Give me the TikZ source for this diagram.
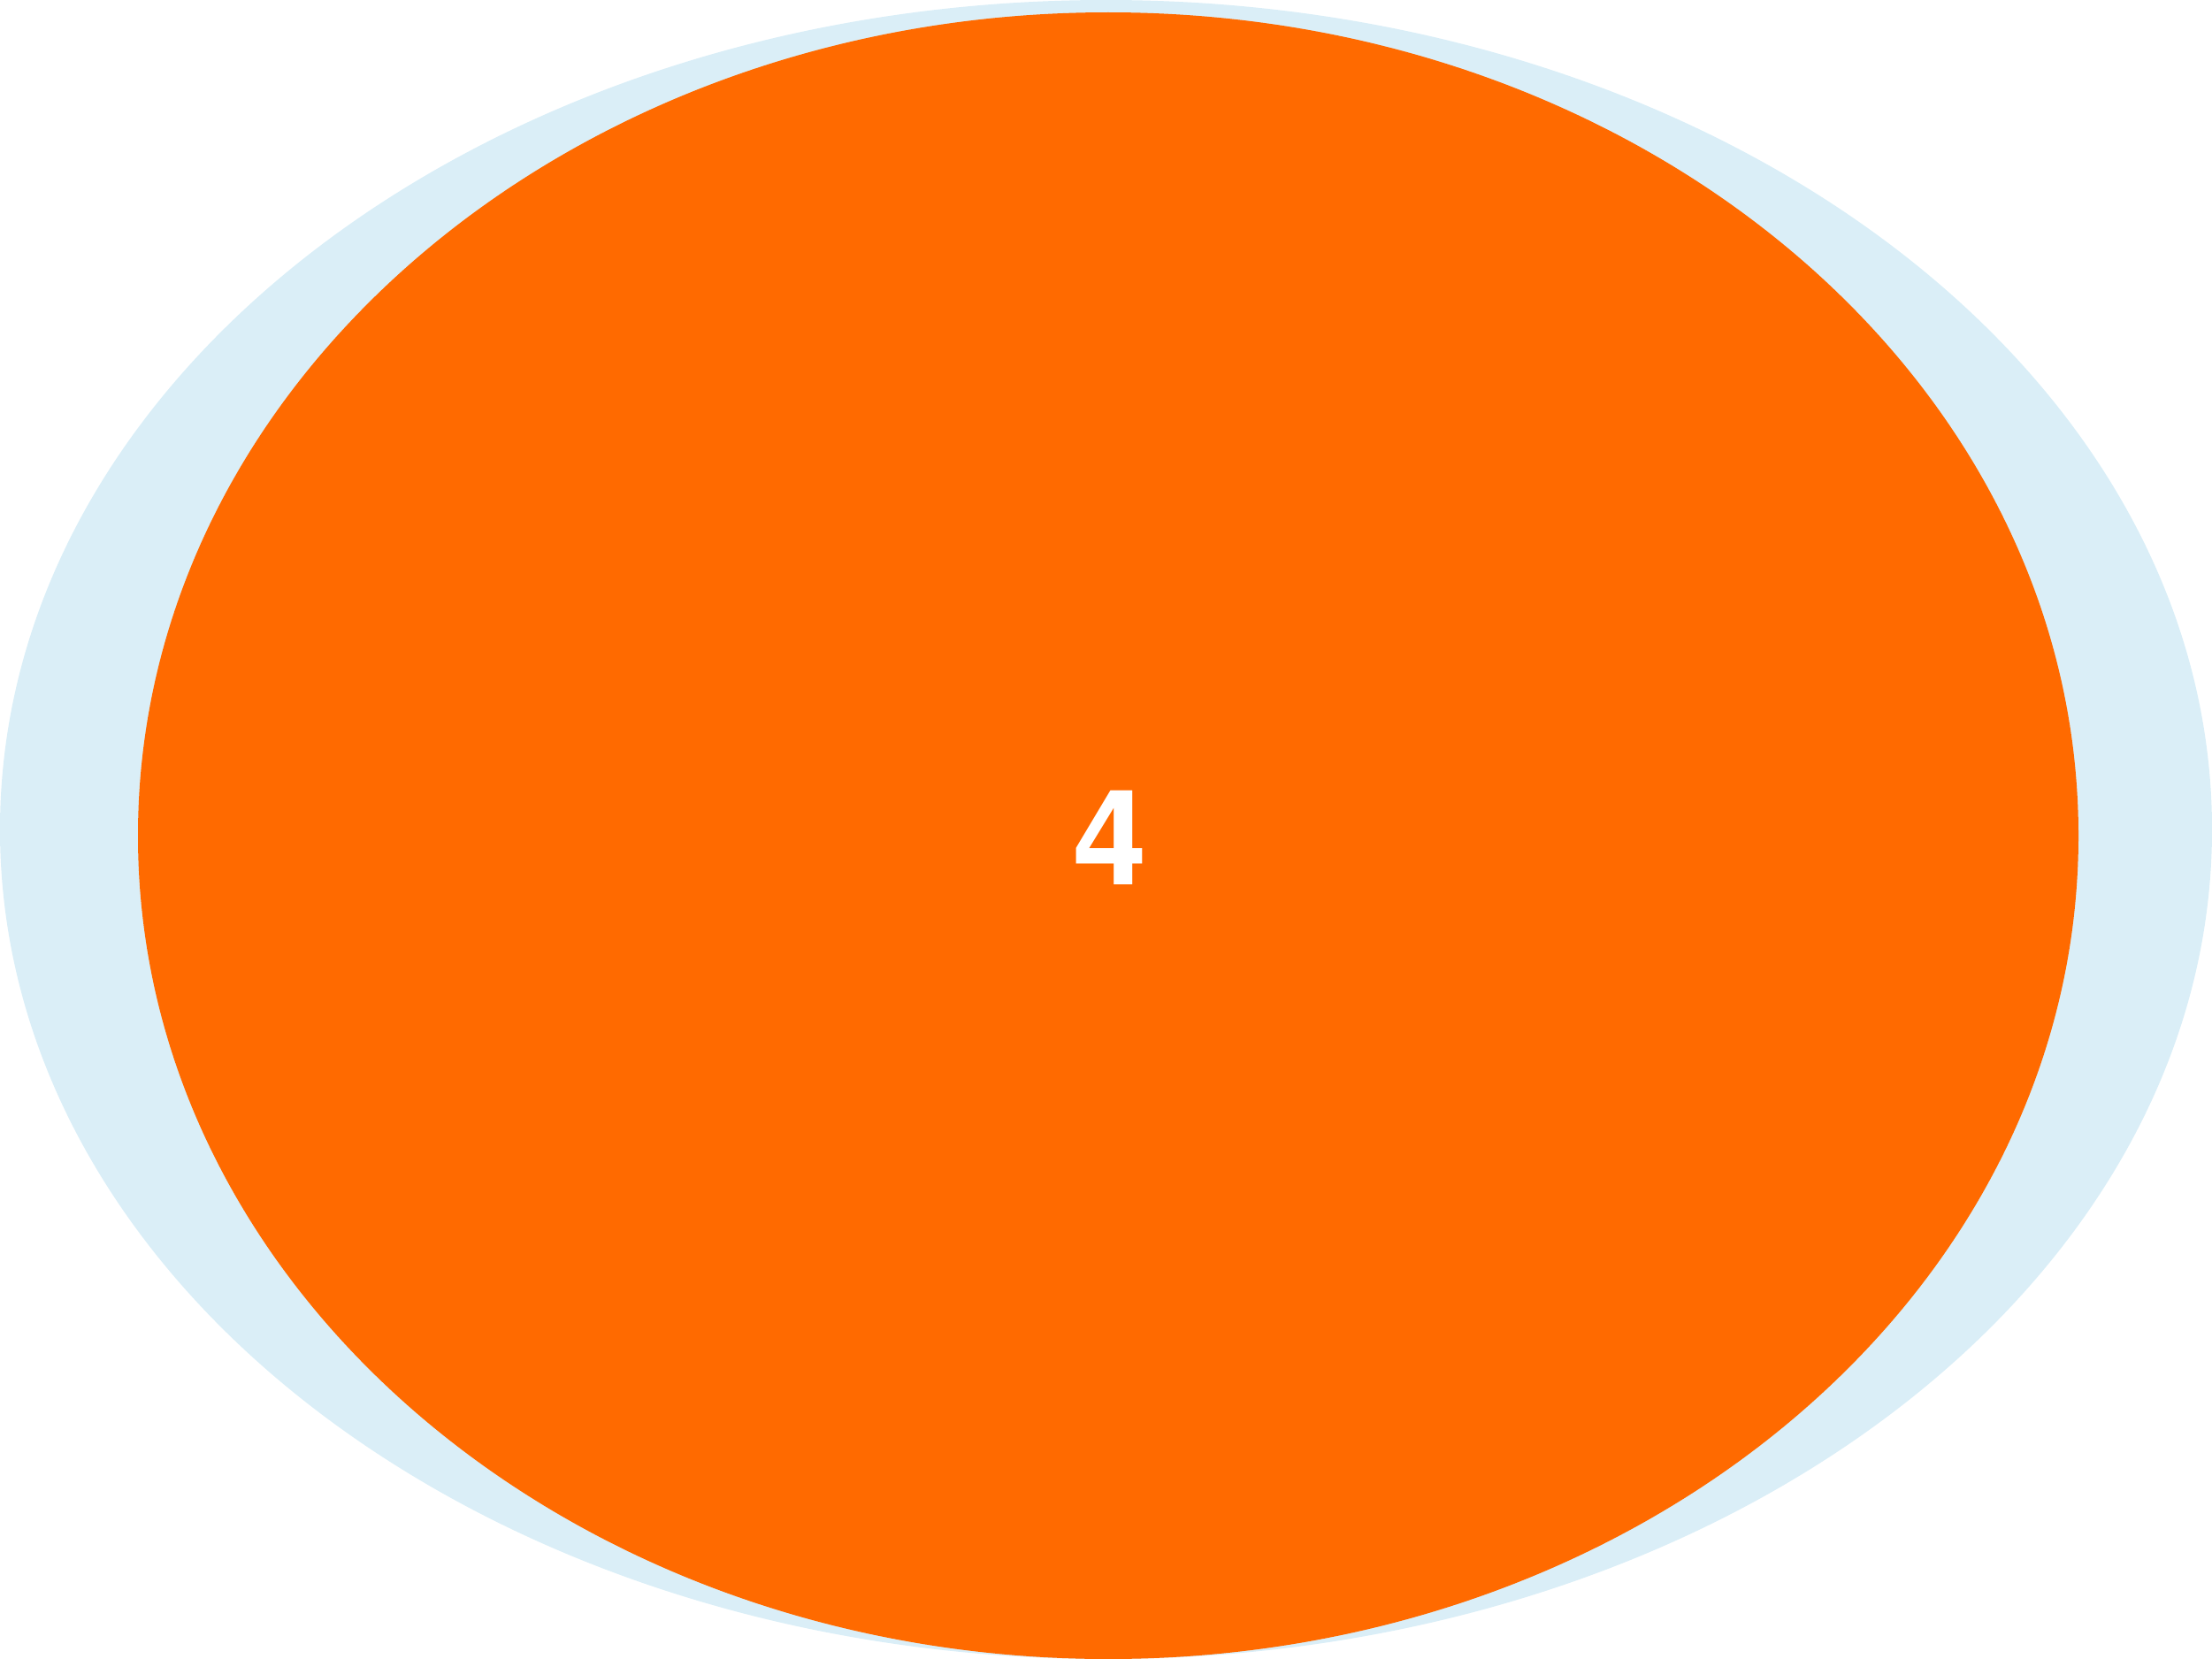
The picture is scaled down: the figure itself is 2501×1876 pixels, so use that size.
\documentclass[tikz,border=0pt]{standalone}
\usepackage{fontspec}
\setmainfont{TeX Gyre Heros}
\definecolor{paleblue}{HTML}{DAEEF7}
\definecolor{vivorange}{HTML}{FF6A00}
\begin{document}
\begin{tikzpicture}[x=1pt,y=-1pt]
\useasboundingbox (0,0) rectangle (2501,1876);
\fill[paleblue] (1250.5,938) ellipse [x radius=1250.5, y radius=938];
\fill[vivorange] (1253,945) ellipse [x radius=1097, y radius=931];
\node[text=white,font=\fontsize{150}{160}\selectfont\bfseries,inner sep=0pt] (n4) at (1255,947) {4};
\end{tikzpicture}
\end{document}
